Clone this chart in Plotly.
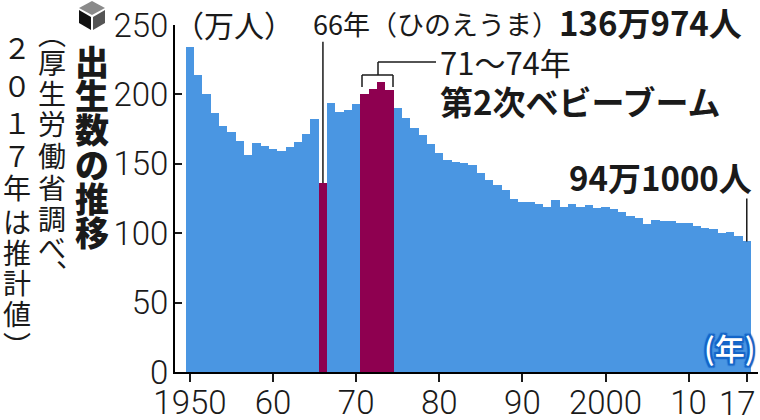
import plotly.graph_objects as go

years = list(range(1950, 2018))
births = [233.8, 213.8, 200.5, 186.8, 176.9, 173.1, 166.5, 156.7, 165.3, 162.6,
          160.6, 158.9, 161.9, 166.0, 171.7, 182.4, 136.1, 193.6, 187.2, 189.0,
          193.4, 200.1, 203.9, 209.2, 203.0, 190.1, 183.3, 175.5, 170.9, 164.3,
          157.7, 152.9, 151.5, 150.9, 149.0, 143.2, 138.3, 134.7, 131.4, 124.7,
          122.2, 122.3, 120.9, 118.8, 123.8, 118.7, 120.7, 119.2, 120.3, 117.8,
          119.1, 117.1, 115.4, 112.4, 111.1, 106.3, 109.3, 109.0, 109.1, 107.0,
          107.1, 105.1, 103.7, 103.0, 100.4, 100.6, 97.7, 94.1]
highlight_years = [1966, 1971, 1972, 1973, 1974]
y_ticks = [0, 50, 100, 150, 200, 250]
x_ticks = [1950, 1960, 1970, 1980, 1990, 2000, 2010, 2017]
x_labels = ["1950", "60", "70", "80", "90", "2000", "10", ""]
last_label = "17"

W, H = 760, 420
L, R, T, B = 175, 758, 25, 372  # plot area in pixels
BLUE = "#4A96E2"
CRIMSON = "#8E0050"
INK = "#1a1a1a"
JP = "Noto Sans CJK JP"
DIGITS = "Roboto"

bar_colors = [CRIMSON if y in highlight_years else BLUE for y in years]


def px(x):
    return (x - L) / (R - L)


def py(y):
    return (B - y) / (B - T)


def label(text, x, y, size, bold=False, anchor="left", weight=None, font=JP):
    return dict(text=text, x=px(x), y=py(y), xref="paper", yref="paper",
                xanchor=anchor, yanchor="middle", showarrow=False,
                font=dict(family=font, size=size, color=INK,
                          weight=weight or (700 if bold else 400)))


def column(chars, x, ys, size, weight=400):
    return [label(c, x, y, size, anchor="center", weight=weight) for c, y in zip(chars, ys)]


def pline(x0, y0, x1, y1, width=1.5):
    return dict(type="line", xref="paper", yref="paper", x0=px(x0), x1=px(x1),
                y0=py(y0), y1=py(y1), line=dict(color=INK, width=width))


def ppath(points, fill):
    d = "M " + " L ".join(f"{px(x):.5f} {py(y):.5f}" for x, y in points) + " Z"
    return dict(type="path", xref="paper", yref="paper", path=d, fillcolor=fill, line=dict(width=0))


outline = ", ".join(f"{dx}px {dy}px 1px #1565C8" for dx, dy in
                    [(2, 0), (-2, 0), (0, 2), (0, -2), (2, 2), (-2, 2), (2, -2), (-2, -2)])

annotations = [
    label("（万人）", 172, 24, 30),
    label("66年（ひのえうま）", 311, 24, 27),
    label("136万974人", 557, 22, 33, bold=True),
    label("71～74年", 438, 62, 31),
    label("第2次ベビーブーム", 438, 101, 33, bold=True),
    label("94万1000人", 567, 177, 33, bold=True),
    label(last_label, 737, 403, 33, anchor="center", weight=300, font=DIGITS),
]
annotations.append(dict(text="(年)", x=px(757), y=py(347), xref="paper", yref="paper",
                        xanchor="right", yanchor="middle", showarrow=False,
                        font=dict(family=JP, size=30, color="white", weight=500, shadow=outline)))
annotations += column("出生数の推移", 92, [60, 94, 128, 163, 197, 231], 34, weight=900)
annotations += column("︵厚生労働省調べ、", 52, [33, 62, 93, 123, 155, 187, 218, 247, 255], 28)
annotations[-1]["x"] = px(70)
annotations += column("２０１７年は推計値︶", 17, [47, 85, 122, 155, 187, 221, 252, 282, 313, 345], 28)

shapes = [
    # leader for 1966
    dict(type="line", xref="x", yref="y", x0=1966, x1=1966, y0=births[16], y1=238,
         line=dict(color=INK, width=1.5)),
    # leader for 2017
    dict(type="line", xref="x", yref="y", x0=2017, x1=2017, y0=births[67], y1=125,
         line=dict(color=INK, width=1.5)),
    # bracket for 71-74
    pline(362, 87, 362, 75), pline(362, 75, 393, 75), pline(393, 75, 393, 87),
    pline(378, 75, 378, 62), pline(378, 62, 436, 62),
    # cube icon
    ppath([(92, 1), (105, 8), (92, 15), (79, 8)], "#8a8a8a"),
    ppath([(79, 10), (91, 17), (91, 30), (79, 23)], "#111111"),
    ppath([(93, 17), (105, 10), (105, 23), (93, 30)], "#555555"),
]

fig = go.Figure(go.Bar(x=years, y=births, width=1, marker=dict(color=bar_colors, line=dict(width=0))))

fig.update_layout(
    width=W, height=H,
    margin=dict(l=L, r=W - R, t=T, b=H - B, pad=0, autoexpand=False),
    paper_bgcolor="white", plot_bgcolor="white",
    showlegend=False, bargap=0,
    annotations=annotations, shapes=shapes,
    xaxis=dict(range=[1948.2, 2018.35], tickmode="array", tickvals=x_ticks, ticktext=x_labels,
               ticks="outside", ticklen=8, tickwidth=1.5, tickcolor=INK, automargin=False,
               ticklabelstandoff=-8,
               showline=True, linecolor="black", linewidth=2, showgrid=False, zeroline=False,
               tickfont=dict(family=DIGITS, size=33, color=INK, weight=300)),
    yaxis=dict(range=[0, 250], tickmode="array", tickvals=y_ticks,
               ticks="inside", ticklen=7, tickwidth=1.5, tickcolor=INK, automargin=False,
               ticklabelstandoff=-2,
               showline=True, linecolor="black", linewidth=2, showgrid=False, zeroline=False,
               tickfont=dict(family=DIGITS, size=33, color=INK, weight=300)),
)

fig.write_html("out.html", config={"displayModeBar": False},
               post_script="document.body.style.margin='0';document.body.style.overflow='hidden';")
